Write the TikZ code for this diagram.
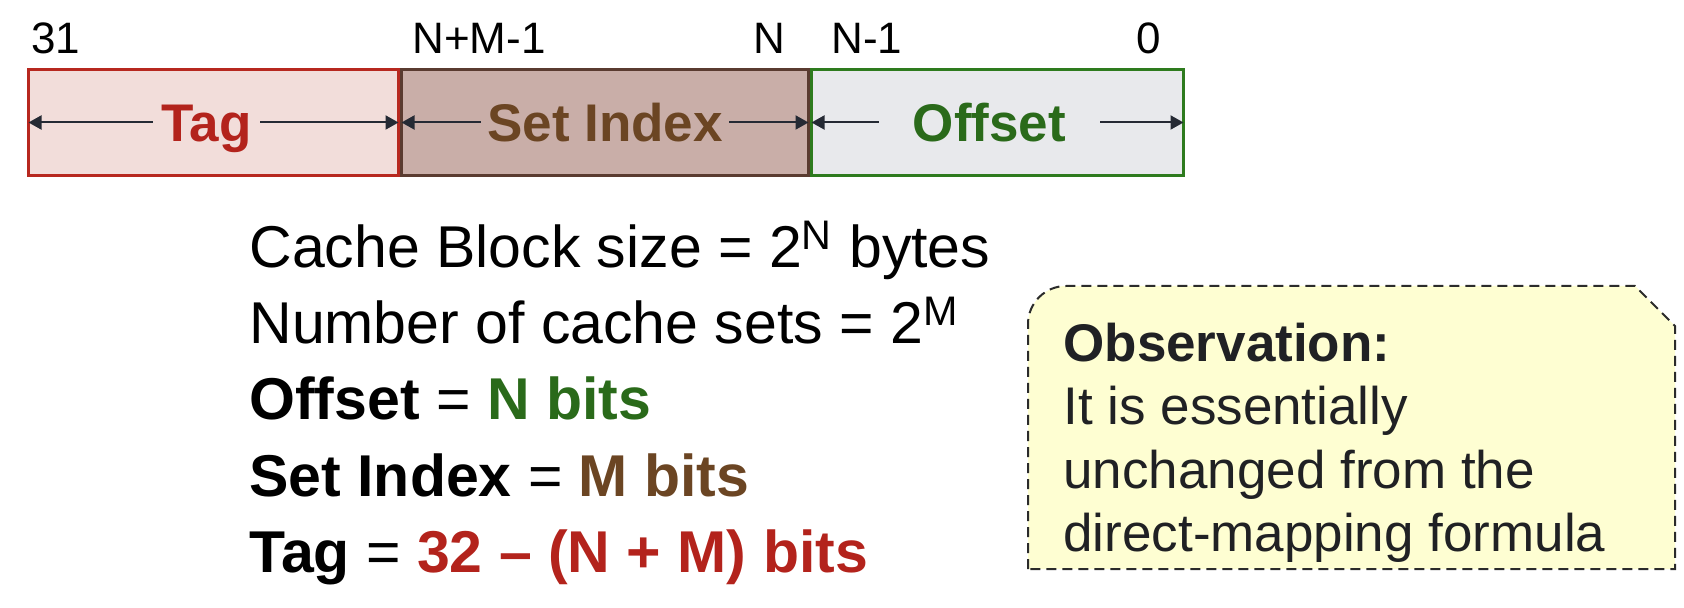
\documentclass[tikz,border=0pt]{standalone}
\usepackage{fontspec}
\setmainfont{Liberation Sans}
\usetikzlibrary{arrows.meta,calc,positioning}
\definecolor{arrowink}{HTML}{252A34}
\definecolor{tagline}{HTML}{B7281F}
\definecolor{tagfill}{HTML}{F2DDDA}
\definecolor{tagtext}{HTML}{B3231C}
\definecolor{idxline}{HTML}{5A3B30}
\definecolor{idxfill}{HTML}{C9AEA8}
\definecolor{idxtext}{HTML}{6B4523}
\definecolor{offline}{HTML}{2E7B1E}
\definecolor{offfill}{HTML}{E8E9EC}
\definecolor{offtext}{HTML}{2A6A1A}
\definecolor{notefill}{HTML}{FEFED2}
\definecolor{noteline}{HTML}{2B2B2B}
\definecolor{notetext}{HTML}{202124}
\tikzset{
  field/.style={draw,line width=1.5pt,minimum height=53pt,inner sep=0pt},
  tagfield/.style={field,draw=tagline,fill=tagfill,minimum width=185pt},
  idxfield/.style={field,draw=idxline,fill=idxfill,minimum width=203.5pt},
  offfield/.style={field,draw=offline,fill=offfill,minimum width=186pt},
  fieldname/.style={font=\fontsize{26.5}{28}\selectfont\bfseries,inner ysep=0pt,
                    text height=19pt,text depth=0pt},
  bitnum/.style={font=\fontsize{22}{24}\selectfont,inner sep=0pt},
  bitspan/.style={-{Triangle[length=6.5pt,width=7pt]},line width=1pt,draw=arrowink,shorten >=0.75pt},
  fact/.style={font=\fontsize{29.5}{38}\selectfont,inner sep=0pt,anchor=base west},
  notetxt/.style={font=\fontsize{26.5}{31.5}\selectfont,text=notetext,inner sep=0pt,anchor=base west},
  noteframe/.style={draw=noteline,fill=notefill,line width=1pt,dash pattern=on 5pt off 3pt}
}
\begin{document}
\begin{tikzpicture}[x=0.5pt,y=-0.5pt]
  \useasboundingbox (0,0) rectangle (1684,608);
  % address fields
  \node[tagfield,anchor=north west] (tag) at (27,68) {};
  \node[idxfield,right=0pt of tag] (idx) {};
  \node[offfield,right=0pt of idx] (off) {};
  \node[fieldname,text=tagtext,inner xsep=4pt,xshift=-3.5pt] (taglbl) at (tag) {Tag};
  \node[fieldname,text=idxtext,inner xsep=3pt] (idxlbl) at (idx) {Set Index};
  \node[fieldname,text=offtext,inner xsep=17pt,xshift=-4pt] (offlbl) at (off) {Offset};
  \draw[bitspan] (taglbl.west) -- (taglbl.west -| tag.west);
  \draw[bitspan] (taglbl.east) -- (taglbl.east -| tag.east);
  \draw[bitspan] (idxlbl.west) -- (idxlbl.west -| idx.west);
  \draw[bitspan] (idxlbl.east) -- (idxlbl.east -| idx.east);
  \draw[bitspan] (offlbl.west) -- (offlbl.west -| off.west);
  \draw[bitspan] (offlbl.east) -- (offlbl.east -| off.east);
  % bit positions
  \node[bitnum,anchor=base west] (bit31) at ([xshift=2pt,yshift=7pt]tag.north west) {31};
  \node[bitnum,anchor=base west] (bitnm) at ([xshift=6pt,yshift=7pt]idx.north west) {N+M-1};
  \node[bitnum,anchor=base east] (bitn) at ([xshift=-12pt,yshift=7pt]idx.north east) {N};
  \node[bitnum,anchor=base west] (bitn1) at ([xshift=10.5pt,yshift=7pt]off.north west) {N-1};
  \node[bitnum,anchor=base east] (bit0) at ([xshift=-12pt,yshift=7pt]off.north east) {0};
  % formulas
  \node[fact] (blocksize) at (249,268) {Cache Block size = 2\textsuperscript{N} bytes};
  \node[fact,below=38pt of blocksize.base west,anchor=base west] (numsets) {Number of cache sets = 2\textsuperscript{M}};
  \node[fact,below=38pt of numsets.base west,anchor=base west] (offbits) {\textbf{Offset} = \textcolor{offtext}{\textbf{N bits}}};
  \node[fact,below=38pt of offbits.base west,anchor=base west] (idxbits) {\textbf{Set Index} = \textcolor{idxtext}{\textbf{M bits}}};
  \node[fact,below=38pt of idxbits.base west,anchor=base west] (tagbits) {\textbf{Tag} = \textcolor{tagtext}{\textbf{32 -- (N + M) bits}}};
  % observation note
  \coordinate (noteNW) at (1028,286);
  \coordinate (noteSE) at (1675,569);
  \coordinate (noteNE) at (noteSE |- noteNW);
  \coordinate (noteSW) at (noteNW |- noteSE);
  \draw[noteframe] (noteSW) -- ([yshift=-19pt]noteNW) arc[start angle=180,end angle=90,radius=19pt]
    -- ([xshift=-20pt]noteNE) -- ([yshift=-20pt]noteNE) -- (noteSE) -- cycle;
  \node[notetxt] (notehead) at (1063,362) {\bfseries Observation:};
  \node[notetxt,below=31.5pt of notehead.base west,anchor=base west] (note1) {It is essentially};
  \node[notetxt,below=31.5pt of note1.base west,anchor=base west] (note2) {unchanged from the};
  \node[notetxt,below=31.5pt of note2.base west,anchor=base west] (note3) {direct-mapping formula};
\end{tikzpicture}
\end{document}
